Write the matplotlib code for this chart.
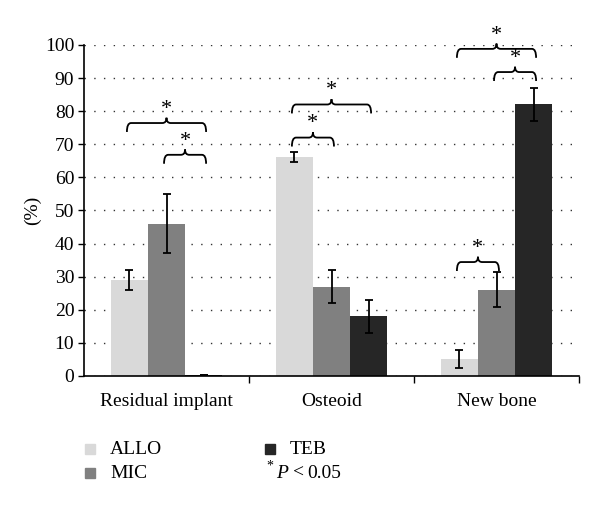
import matplotlib
matplotlib.use("Agg")
import matplotlib.pyplot as plt
from matplotlib.path import Path
from matplotlib.patches import PathPatch, Rectangle
import numpy as np

plt.rcParams['font.family'] = ['Liberation Serif', 'DejaVu Serif']

# データ
categories = ['Residual implant', 'Osteoid', 'New bone']
series = ['ALLO', 'MIC', 'TEB']
allo = [29, 66, 5]
allo_err = [3, 1.5, 2.7]
mic = [46, 27, 26]
mic_err = [9, 5, 5.3]
teb = [0.3, 18, 82]
teb_err = [0, 5, 5]
colors = ['#d9d9d9', '#808080', '#262626']

# 有意差ブレース: カテゴリ, 開始系列, 終了系列, 高さ
brace_cat = [0, 0, 1, 1, 2, 2, 2]
brace_from = [0, 1, 0, 0, 0, 1, 0]
brace_to = [2, 2, 2, 1, 1, 2, 2]
brace_y = [76.4, 66.8, 82.0, 72.0, 34.4, 91.8, 98.8]

fig = plt.figure(figsize=(6, 5.08), dpi=100)
ax = fig.add_axes([0.14, 0.26, 0.825, 0.6516])

x = np.arange(len(categories))
w = 0.225
vals = [allo, mic, teb]
errs = [allo_err, mic_err, teb_err]
for i in range(3):
    ax.bar(x + (i - 1) * w, vals[i], w, color=colors[i], zorder=2)
    ax.errorbar(x + (i - 1) * w, vals[i], yerr=errs[i], fmt='none', ecolor='black',
                elinewidth=1.3, capsize=2.8, capthick=1.3, zorder=3)

ax.set_xlim(-0.5, 2.5)
ax.set_ylim(0, 100)
ax.set_yticks(np.arange(0, 101, 10))
ax.tick_params(axis='y', labelsize=14, direction='out', length=4, width=1, pad=3)
ax.set_xticks([0.5, 1.5, 2.5])
ax.set_xticklabels([])
ax.set_xticks(x, minor=True)
ax.set_xticklabels(categories, minor=True, fontsize=14)
ax.tick_params(axis='x', which='major', direction='out', length=5, width=1)
ax.tick_params(axis='x', which='minor', length=0, pad=12)
for s in ['top', 'right']:
    ax.spines[s].set_visible(False)
ax.spines['left'].set_linewidth(1.2)
ax.spines['bottom'].set_linewidth(1.2)
ax.yaxis.grid(True, linestyle=(0, (1, 6)), linewidth=1, color='#333333')
ax.set_axisbelow(True)
ax.set_ylabel('(%)', fontsize=14, labelpad=3)


def brace(ax, x0, x1, y):
    xm = (x0 + x1) / 2
    rx, dy, dp = 0.025, 2.7, 1.6
    verts = [(x0, y - dy), (x0, y), (x0 + rx, y), (xm - rx, y), (xm, y), (xm, y + dp),
             (xm, y), (xm + rx, y), (x1 - rx, y), (x1, y), (x1, y - dy)]
    codes = [Path.MOVETO, Path.CURVE3, Path.CURVE3, Path.LINETO, Path.CURVE3, Path.CURVE3,
             Path.CURVE3, Path.CURVE3, Path.LINETO, Path.CURVE3, Path.CURVE3]
    ax.add_patch(PathPatch(Path(verts, codes), fill=False, lw=1.3, color='black', clip_on=False))
    ax.text(xm, y + 2.8, '*', ha='center', va='baseline', fontsize=16, clip_on=False)


for c, a, b, yy in zip(brace_cat, brace_from, brace_to, brace_y):
    brace(ax, c + (a - 1) * w - 0.015, c + (b - 1) * w + 0.015, yy)

# 凡例（手動）
W, H = 600, 508
def px(xp, yp):
    return xp / W, 1 - yp / H

leg_pos = [(85, 449), (85, 473), (265, 449)]
for i, (lx, ly) in enumerate(leg_pos):
    fx, fy = px(lx, ly + 5)
    fig.add_artist(Rectangle((fx, fy), 10 / W, 10 / H, color=colors[i], transform=fig.transFigure))
    fig.text(*px(lx + 25, ly), series[i], fontsize=14, va='center')
fig.text(*px(266, 466), '*', fontsize=10, va='center')
fig.text(*px(276, 473), 'P', fontsize=14, style='italic', va='center')
fig.text(*px(293, 473), '<', fontsize=14, va='center')
fig.text(*px(307, 473), '0.05', fontsize=14, va='center')

fig.savefig('out.png', dpi=100)
